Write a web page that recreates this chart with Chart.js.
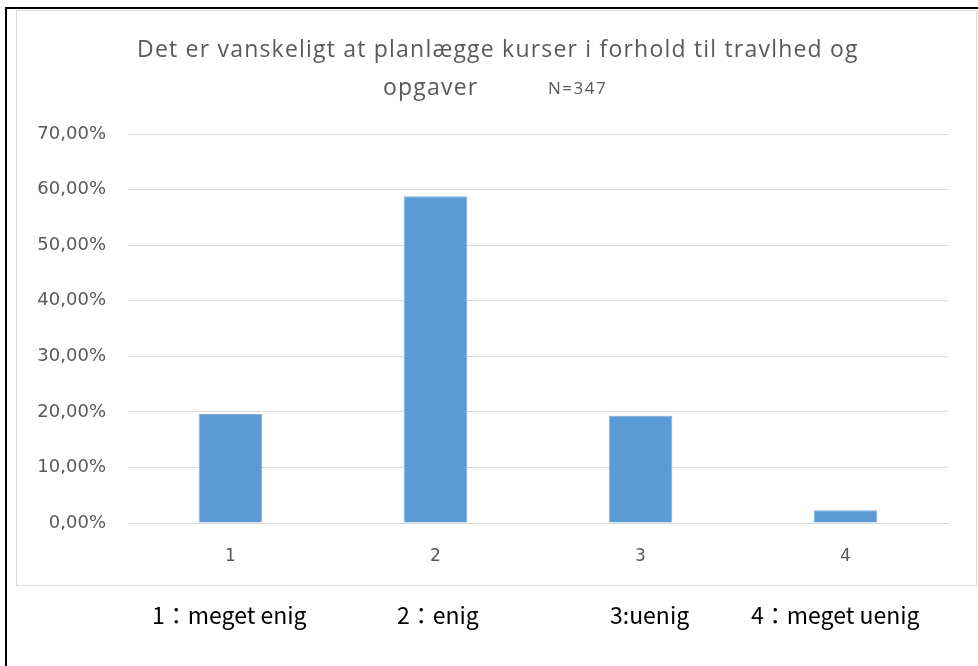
<!DOCTYPE html>
<html>
<head>
<meta charset="utf-8">
<script src="https://cdn.jsdelivr.net/npm/chart.js@4/dist/chart.umd.min.js"></script>
<style>
  html, body { margin: 0; padding: 0; background: #fff; }
  #page { position: relative; width: 978px; height: 666px; overflow: hidden; background: #fff; }
  #edge-left { position: absolute; left: 5px; top: 7px; width: 2px; height: 659px; background: #000; }
  #edge-top { position: absolute; left: 5px; top: 7px; width: 973px; height: 2px; background: #000; }
  #frame { position: absolute; left: 16px; top: 10px; width: 959px; height: 574px; border: 1px solid #d9d9d9; box-sizing: content-box; }
  #chart { position: absolute; left: 0; top: 0; }
  .title { position: absolute; font-family: "Open Sans", sans-serif; color: #595959; white-space: nowrap; letter-spacing: 1.2px; }
  .note { position: absolute; top: 603px; line-height: 23px; font-family: "Noto Sans CJK JP", "Noto Sans", sans-serif; font-size: 23px; color: #000; white-space: pre; }
</style>
</head>
<body>
<div id="page">
  <div id="frame"></div>
  <canvas id="chart" width="978" height="666"></canvas>
  <div id="edge-left"></div>
  <div id="edge-top"></div>
  <div class="title" style="left:137px;top:32px;font-size:23px;">Det er vanskeligt at planlægge kurser i forhold til travlhed og</div>
  <div class="title" style="left:383px;top:70px;font-size:23px;">opgaver</div>
  <div class="title" style="left:548px;top:76px;font-size:17px;letter-spacing:1.5px;">N=347</div>
  <div id="notes"></div>
</div>
<script>
/* Answer shares (%) for "Det er vanskeligt at planlægge kurser ..." N=347 */
const categories = ["1", "2", "3", "4"];
const shares = [19.6, 58.8, 19.3, 2.3];
const answerLabels = ["1：meget enig", "2：enig", "3:uenig", "4：meget uenig"];
const notePositions = [152, 397, 610, 751];

const notes = document.getElementById("notes");
answerLabels.forEach((txt, i) => {
  const d = document.createElement("div");
  d.className = "note";
  d.style.left = notePositions[i] + "px";
  d.textContent = txt;
  notes.appendChild(d);
});

const pct = (v) => v.toFixed(2).replace(".", ",") + "%";

new Chart(document.getElementById("chart"), {
  type: "bar",
  data: {
    labels: categories,
    datasets: [{
      data: shares,
      backgroundColor: "#5b9bd5",
      borderColor: "#7cb0e0",
      borderWidth: 1,
      barPercentage: 0.31,
      categoryPercentage: 1,
    }],
  },
  options: {
    responsive: false,
    animation: false,
    layout: { padding: { left: 0, top: 134, right: 30, bottom: 103 } },
    plugins: { legend: { display: false }, tooltip: { enabled: false } },
    scales: {
      x: {
        grid: { display: false, drawTicks: false },
        border: { display: true, color: "#d9d9d9", width: 1 },
        ticks: { color: "#595959", font: { family: "DejaVu Sans", size: 17 }, padding: 23 },
        afterFit: (s) => { s.height = 40; },
      },
      y: {
        min: 0, max: 70,
        grid: { color: "#d9d9d9", lineWidth: 1, drawTicks: false },
        border: { display: false },
        ticks: { stepSize: 10, color: "#595959", font: { family: "DejaVu Sans", size: 18 }, padding: 22, callback: (v) => pct(v) },
        afterFit: (s) => { s.width = 128; },
      },
    },
  },
});
</script>
</body>
</html>
